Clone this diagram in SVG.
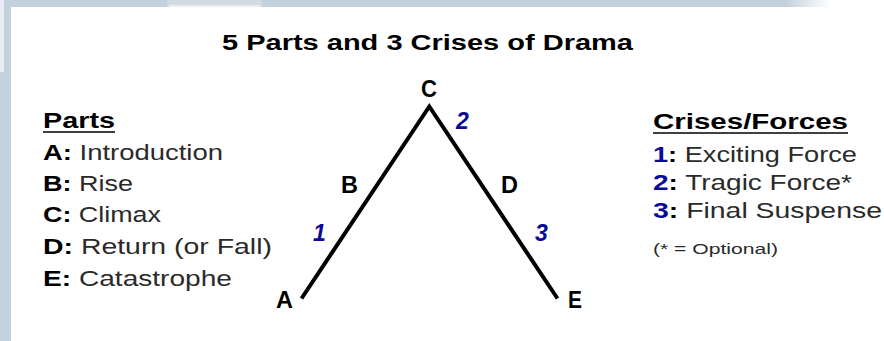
<svg xmlns="http://www.w3.org/2000/svg" width="884" height="341" viewBox="0 0 884 341">
<defs>
<linearGradient id="fade" x1="0" y1="0" x2="1" y2="0">
<stop offset="0" stop-color="#c3d1dd"/>
<stop offset="1" stop-color="#ffffff"/>
</linearGradient>
</defs>
<style>
.t{font-family:"Liberation Sans",Arial,sans-serif;font-size:22px;fill:#2a2a2a}
.b{font-weight:bold;fill:#000}
.n{font-weight:bold;fill:#0a0a9a}
.lbl{font-family:"Liberation Sans",Arial,sans-serif;font-weight:bold;font-size:23px;fill:#000}
.num{font-style:italic;fill:#0a0a9a}
.ul{stroke:#000;stroke-width:1.6}
.edge{fill:none;stroke:#000;stroke-width:4;stroke-linejoin:miter;stroke-linecap:butt}
</style>
<g id="background">
<rect x="0" y="0" width="884" height="341" fill="#ffffff"/>
<rect x="0" y="0" width="787" height="7" fill="#c3d1dd"/>
<rect x="786" y="0" width="44" height="7" fill="url(#fade)"/>
<rect x="167" y="0" width="95" height="7" fill="#d3dae0"/>
<rect x="169" y="5" width="91" height="2" fill="#e9edf0"/>
<rect x="0" y="0" width="11" height="341" fill="#c3d1dd"/>
<rect x="0" y="0" width="4" height="72" fill="#e7edf3"/>
</g>
<text class="t b" x="222" y="50" style="font-size:21.5px" textLength="411" lengthAdjust="spacingAndGlyphs">5 Parts and 3 Crises of Drama</text>
<g id="parts-legend">
<text class="t b" x="43" y="128" textLength="72" lengthAdjust="spacingAndGlyphs">Parts</text>
<line class="ul" x1="43" y1="132" x2="115" y2="132"/>
<text class="t" x="43" y="160" textLength="180" lengthAdjust="spacingAndGlyphs"><tspan class="b">A:</tspan> Introduction</text>
<text class="t" x="43" y="191" textLength="90" lengthAdjust="spacingAndGlyphs"><tspan class="b">B:</tspan> Rise</text>
<text class="t" x="43" y="222" textLength="118" lengthAdjust="spacingAndGlyphs"><tspan class="b">C:</tspan> Climax</text>
<text class="t" x="43" y="254" textLength="229" lengthAdjust="spacingAndGlyphs"><tspan class="b">D:</tspan> Return (or Fall)</text>
<text class="t" x="43" y="286" textLength="189" lengthAdjust="spacingAndGlyphs"><tspan class="b">E:</tspan> Catastrophe</text>
</g>
<g id="crises-legend">
<text class="t b" x="653" y="129" textLength="195" lengthAdjust="spacingAndGlyphs">Crises/Forces</text>
<line class="ul" x1="653" y1="133" x2="848" y2="133"/>
<text class="t" x="653" y="162" textLength="204" lengthAdjust="spacingAndGlyphs"><tspan class="n">1</tspan><tspan class="b">:</tspan> Exciting Force</text>
<text class="t" x="653" y="190" textLength="199" lengthAdjust="spacingAndGlyphs"><tspan class="n">2</tspan><tspan class="b">:</tspan> Tragic Force*</text>
<text class="t" x="653" y="218" textLength="229" lengthAdjust="spacingAndGlyphs"><tspan class="n">3</tspan><tspan class="b">:</tspan> Final Suspense</text>
<text class="t" x="653" y="254" style="font-size:15.5px" textLength="125" lengthAdjust="spacingAndGlyphs">(* = Optional)</text>
</g>
<g id="connectors">
<polyline class="edge" points="301.5,298.5 429.3,106.5 557.5,298.5"/>
</g>
<g id="node-A"><text class="lbl" x="276" y="308" textLength="17" lengthAdjust="spacingAndGlyphs">A</text></g>
<g id="node-B"><text class="lbl" x="341" y="193" textLength="17" lengthAdjust="spacingAndGlyphs">B</text></g>
<g id="node-C"><text class="lbl" x="421" y="97" textLength="16" lengthAdjust="spacingAndGlyphs">C</text></g>
<g id="node-D"><text class="lbl" x="501" y="193" textLength="17" lengthAdjust="spacingAndGlyphs">D</text></g>
<g id="node-E"><text class="lbl" x="568" y="308" textLength="14" lengthAdjust="spacingAndGlyphs">E</text></g>
<g id="crisis-1"><text class="lbl num" x="313" y="241">1</text></g>
<g id="crisis-2"><text class="lbl num" x="456" y="129">2</text></g>
<g id="crisis-3"><text class="lbl num" x="535" y="241">3</text></g>
</svg>
